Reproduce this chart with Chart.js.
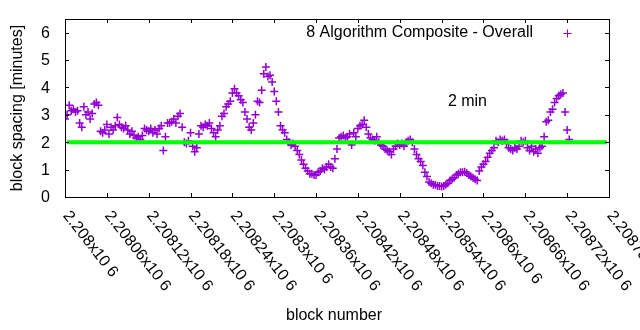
<!DOCTYPE html>
<html>
<head>
<meta charset="utf-8">
<script src="https://cdn.jsdelivr.net/npm/chart.js@4.4.1/dist/chart.umd.min.js"></script>
<style>
  body { margin: 0; background: #fff; }
  canvas { display: block; }
</style>
</head>
<body>
<canvas id="chart" width="640" height="330"></canvas>
<script>
// block spacing in minutes, one reading every 3 blocks from block 2208000
const firstBlock = 2208000;
const blockStep = 3;
const spacing = [
  2.85, 3.0, 3.35, 3.15, 3.2, 3.1, 3.15, 2.7, 2.55, 3.3,
  3.0, 3.1, 2.85, 3.05, 3.4, 3.45, 3.35, 2.4, 2.35, 2.45,
  2.65, 2.3, 2.55, 2.45, 2.6, 2.9, 2.65, 2.55, 2.5, 2.6,
  2.45, 2.3, 2.4, 2.25, 2.15, 2.2, 2.1, 2.25, 2.5, 2.45,
  2.4, 2.5, 2.35, 2.45, 2.3, 2.5, 2.6, 1.7, 2.2, 2.7,
  2.7, 2.75, 2.85, 2.7, 2.95, 3.05, 2.55, 2.0, 1.95, 2.05,
  2.35, 1.85, 1.65, 1.8, 2.3, 2.6, 2.55, 2.65, 2.6, 2.7,
  2.5, 2.35, 2.2, 2.45, 2.6, 2.95, 3.05, 3.3, 3.4, 3.5,
  3.8, 3.95, 3.8, 3.7, 3.55, 3.45, 3.1, 2.85, 2.55, 2.45,
  2.7, 3.0, 3.5, 3.45, 3.9, 4.5, 4.75, 4.4, 4.45, 4.2,
  3.85, 3.5, 3.1, 2.6, 2.45, 2.35, 2.1, 2.0, 1.9, 1.95,
  1.85, 1.7, 1.55, 1.35, 1.2, 1.05, 0.95, 0.85, 0.85, 0.8,
  0.8, 0.9, 0.95, 1.05, 1.0, 1.1, 1.2, 1.1, 1.05, 1.4,
  1.75, 2.15, 2.2, 2.25, 2.15, 2.2, 2.3, 1.9, 2.35, 2.2,
  2.5, 2.6, 2.65, 2.8, 2.55, 2.3, 2.15, 2.1, 2.05, 2.2,
  2.0, 1.9, 1.85, 1.75, 1.7, 1.65, 1.55, 1.75, 1.85, 1.95,
  1.9, 1.95, 1.85, 2.0, 2.05, 2.1, 2.0, 1.75, 1.55, 1.4,
  1.3, 1.15, 0.9, 0.75, 0.55, 0.5, 0.45, 0.45, 0.4, 0.4,
  0.38, 0.4, 0.45, 0.5, 0.6, 0.65, 0.7, 0.8, 0.85, 0.9,
  0.9, 0.92, 0.88, 0.8, 0.75, 0.7, 0.65, 0.6, 0.95, 1.1,
  1.2, 1.3, 1.45, 1.6, 1.7, 1.8, 2.05, 2.0, 2.1, 2.05,
  2.1, 1.95, 1.8, 1.75, 1.7, 1.8, 1.75, 1.85, 2.05, 2.0,
  2.05, 1.8, 1.7, 1.85, 1.65, 1.75, 1.6, 1.8, 1.85, 2.2,
  2.75, 2.8, 3.1, 3.2, 3.45, 3.6, 3.7, 3.75, 3.8, 3.1,
  2.45, 2.1
];

// the 2 minute target line
const targetBlocks = [2208003, 2208777];
const targetMinutes = [2, 2];

const xTicks = [2208000, 2208060, 2208120, 2208180, 2208240, 2208300, 2208360,
                2208420, 2208480, 2208540, 2208600, 2208660, 2208720, 2208780];
const xTickLabels = ['2.208x10 6', '2.20806x10 6', '2.20812x10 6', '2.20818x10 6',
                     '2.20824x10 6', '2.2083x10 6', '2.20836x10 6', '2.20842x10 6',
                     '2.20848x10 6', '2.20854x10 6', '2.2086x10 6', '2.20866x10 6',
                     '2.20872x10 6', '2.20878x10 6'];
const yTicks = [0, 1, 2, 3, 4, 5, 6];

const seriesName = '8 Algorithm Composite - Overall';
const targetLabel = '2 min';
const purple = '#9400d3';
const font = '16px "Liberation Sans", Arial, sans-serif';

const points = spacing.map(function (v, i) {
    return { x: firstBlock + i * blockStep, y: v };
});
const target = targetBlocks.map(function (b, i) {
    return { x: b, y: targetMinutes[i] };
});

function cross(ctx, x, y, r) {
    ctx.beginPath();
    ctx.moveTo(x - r, y); ctx.lineTo(x + r, y);
    ctx.moveTo(x, y - r); ctx.lineTo(x, y + r);
    ctx.stroke();
}

const gnuplotFrame = {
    id: 'gnuplotFrame',
    beforeDraw: function (chart) {
        const ctx = chart.ctx;
        ctx.save();
        ctx.fillStyle = '#fff';
        ctx.fillRect(0, 0, chart.width, chart.height);
        ctx.restore();
    },
    afterDraw: function (chart) {
        const ctx = chart.ctx;
        const a = chart.chartArea;
        const xs = chart.scales.x, ys = chart.scales.y;
        const tick = 4;
        ctx.save();
        ctx.strokeStyle = '#000';
        ctx.lineWidth = 1;
        ctx.strokeRect(Math.round(a.left) + 0.5, Math.round(a.top) + 0.5,
                       Math.round(a.right - a.left), Math.round(a.bottom - a.top));

        ctx.beginPath();
        yTicks.forEach(function (v) {
            const y = Math.round(ys.getPixelForValue(v)) + 0.5;
            ctx.moveTo(a.left, y); ctx.lineTo(a.left + tick, y);
            ctx.moveTo(a.right, y); ctx.lineTo(a.right - tick, y);
        });
        xTicks.forEach(function (v) {
            const x = Math.round(xs.getPixelForValue(v)) + 0.5;
            ctx.moveTo(x, a.bottom); ctx.lineTo(x, a.bottom - tick);
            ctx.moveTo(x, a.top); ctx.lineTo(x, a.top + tick);
        });
        ctx.stroke();

        ctx.fillStyle = '#000';
        ctx.font = font;
        ctx.textAlign = 'right';
        ctx.textBaseline = 'middle';
        yTicks.forEach(function (v) {
            ctx.fillText(String(v), a.left - 15, ys.getPixelForValue(v) + 1);
        });

        ctx.textAlign = 'left';
        xTicks.forEach(function (v, i) {
            ctx.save();
            ctx.translate(xs.getPixelForValue(v) + 1, a.bottom + 16);
            ctx.rotate(52 * Math.PI / 180);
            ctx.fillText(xTickLabels[i], 0, 0);
            ctx.restore();
        });

        ctx.textAlign = 'center';
        ctx.fillText('block number', (a.left + a.right) / 2 - 3, 316);
        ctx.save();
        ctx.translate(18, (a.top + a.bottom) / 2);
        ctx.rotate(-Math.PI / 2);
        ctx.fillText('block spacing [minutes]', 0, 0);
        ctx.restore();

        // key, top right inside the plot
        ctx.textAlign = 'right';
        ctx.fillText(seriesName, 533, 33);
        ctx.strokeStyle = purple;
        ctx.lineWidth = 1;
        cross(ctx, 567.5, 33.5, 4);

        ctx.textAlign = 'left';
        ctx.fillStyle = '#000';
        ctx.fillText(targetLabel, xs.getPixelForValue(2208549), ys.getPixelForValue(3.48));
        ctx.restore();
    }
};

new Chart(document.getElementById('chart'), {
    type: 'scatter',
    data: {
        datasets: [
            {
                label: targetLabel,
                data: target,
                showLine: true,
                borderColor: '#00ff00',
                borderWidth: 4,
                pointRadius: 0
            },
            {
                label: seriesName,
                data: points,
                pointStyle: 'cross',
                pointRadius: 4,
                pointBorderWidth: 1.5,
                borderColor: purple,
                backgroundColor: purple
            }
        ]
    },
    options: {
        responsive: false,
        animation: false,
        layout: { padding: { left: 65, right: 31, top: 19, bottom: 133 } },
        plugins: {
            legend: { display: false },
            tooltip: { enabled: false }
        },
        scales: {
            x: { type: 'linear', display: false, min: 2208000, max: 2208780 },
            y: { type: 'linear', display: false, min: 0, max: 6.5 }
        }
    },
    plugins: [gnuplotFrame]
});
</script>
</body>
</html>
